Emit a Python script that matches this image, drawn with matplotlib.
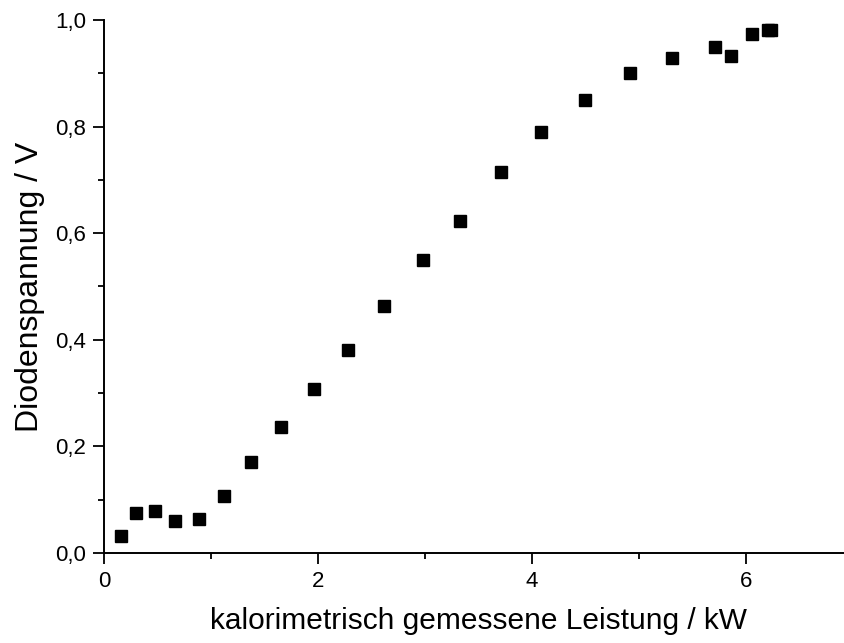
import numpy as np
import matplotlib.pyplot as plt
from matplotlib.ticker import MultipleLocator, FuncFormatter

# Leistung in kW, Diodenspannung in V
leistung = [0.16, 0.30, 0.48, 0.66, 0.89, 1.12, 1.37, 1.65, 1.96, 2.28, 2.62,
            2.98, 3.33, 3.71, 4.08, 4.50, 4.92, 5.31, 5.71, 5.86, 6.06, 6.21, 6.23]
spannung = [0.032, 0.075, 0.079, 0.060, 0.064, 0.107, 0.171, 0.236, 0.308, 0.381,
            0.463, 0.550, 0.623, 0.715, 0.790, 0.850, 0.901, 0.929, 0.949, 0.932,
            0.974, 0.981, 0.981]

plt.rcParams['font.family'] = ['Liberation Sans', 'DejaVu Sans']

fig = plt.figure(figsize=(8.44, 6.43), dpi=100)
ax = fig.add_axes([104 / 844, 1 - 553 / 643, (853 - 104) / 844, (553 - 20) / 643])

ax.plot(leistung, spannung, 's', color='black', markersize=8.5)

ax.set_xlim(0, 7)
ax.set_ylim(0, 1.0)
ax.xaxis.set_major_locator(MultipleLocator(2))
ax.xaxis.set_minor_locator(MultipleLocator(1))
ax.yaxis.set_major_locator(MultipleLocator(0.2))
ax.yaxis.set_minor_locator(MultipleLocator(0.1))
ax.xaxis.set_major_formatter(FuncFormatter(lambda v, p: f"{v:.0f}"))
ax.yaxis.set_major_formatter(FuncFormatter(lambda v, p: f"{v:.1f}".replace('.', ',')))

for s in ['top', 'right']:
    ax.spines[s].set_visible(False)
for s in ['left', 'bottom']:
    ax.spines[s].set_linewidth(1.4)
ax.tick_params(which='major', direction='out', length=8, width=1.3, labelsize=16, pad=5)
ax.tick_params(which='minor', direction='out', length=4.5, width=1.3)

ax.set_xlabel('kalorimetrisch gemessene Leistung / kW', fontsize=21.5, labelpad=11)
ax.set_ylabel('Diodenspannung / V', fontsize=23, labelpad=7)

fig.savefig('out.png', dpi=100)
